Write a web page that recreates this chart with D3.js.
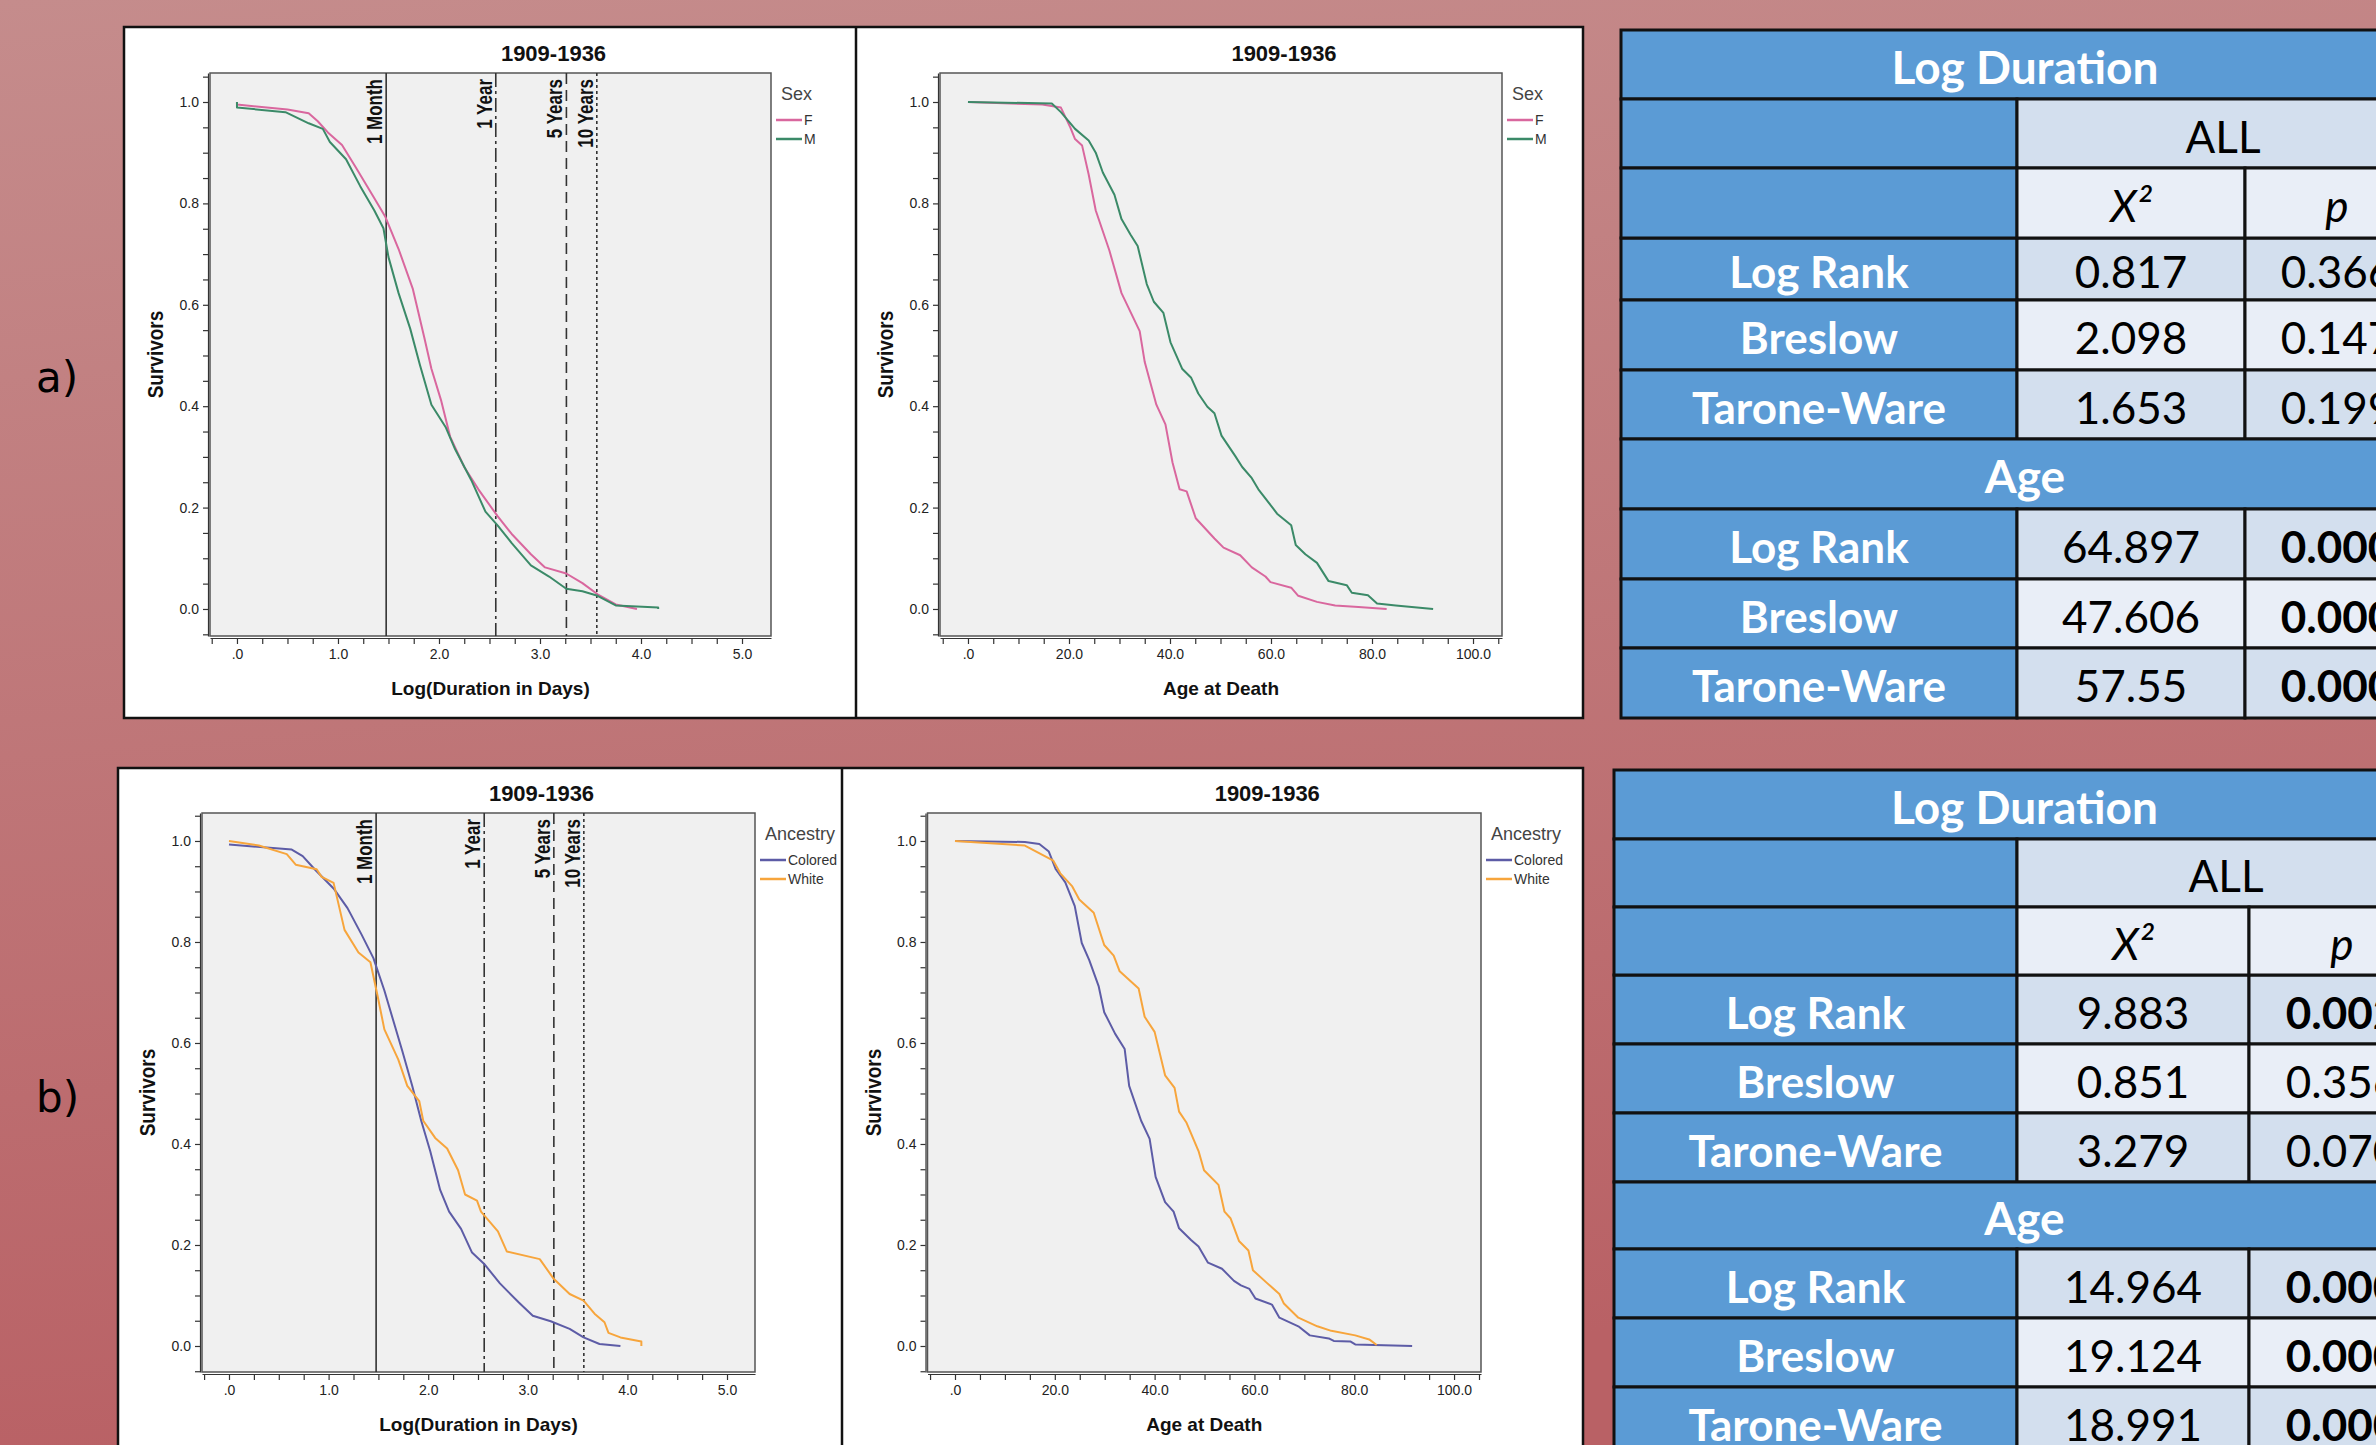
<!DOCTYPE html>
<html>
<head>
<meta charset="utf-8">
<script src="https://cdn.jsdelivr.net/npm/d3@7"></script>
<style>
  body { margin: 0; overflow: hidden; background: #c07878; }
  svg text { font-family: Arial, "Liberation Sans", sans-serif; }
</style>
</head>
<body>
<svg id="svg_id" width="2376" height="1445"></svg>
<script>

// ---- survival curves: [x, survivors] ----
var durSexF = [[0,1.0],[0,0.995],[0.50,0.985],[0.71,0.978],[0.80,0.962],[0.90,0.94],[1.04,0.915],[1.18,0.87],[1.36,0.81],
  [1.47,0.773],[1.60,0.71],[1.74,0.632],[1.855,0.535],[1.925,0.474],[2.02,0.412],[2.11,0.34],[2.25,0.28],
  [2.39,0.236],[2.58,0.183],[2.72,0.148],[2.91,0.108],[3.05,0.082],[3.26,0.07],[3.42,0.051],[3.57,0.029],
  [3.75,0.009],[3.96,0.0]];
var durSexM = [[0,1.0],[0,0.989],[0.48,0.98],[0.71,0.958],[0.85,0.947],[0.92,0.921],[1.08,0.887],[1.22,0.834],
  [1.36,0.786],[1.45,0.751],[1.50,0.694],[1.60,0.623],[1.715,0.553],[1.81,0.482],[1.925,0.403],[2.065,0.359],
  [2.16,0.315],[2.32,0.254],[2.46,0.192],[2.58,0.165],[2.72,0.13],[2.91,0.086],[3.09,0.064],[3.26,0.04],
  [3.42,0.035],[3.57,0.026],[3.75,0.007],[4.17,0.003],[4.17,0.0]];

var ageSexF = [[0,1.0],[14.7,0.995],[18.4,0.989],[20.3,0.949],[21.2,0.927],[22.6,0.914],[23.9,0.857],[25.3,0.786],
  [28.0,0.707],[30.4,0.623],[34.0,0.548],[35.0,0.487],[37.3,0.403],[39.1,0.364],[40.5,0.289],[41.9,0.236],
  [43.3,0.232],[45.1,0.179],[48.8,0.139],[50.6,0.121],[53.9,0.106],[56.2,0.082],[58.9,0.064],[59.9,0.053],
  [64.0,0.042],[65.4,0.026],[69.1,0.014],[72.7,0.007],[77.3,0.004],[82.9,0.0]];
var ageSexM = [[0,1.0],[16.6,0.997],[18.4,0.98],[21.2,0.947],[23.9,0.924],[25.3,0.9],[26.7,0.861],[29.0,0.817],
  [30.4,0.769],[32.2,0.738],[33.6,0.716],[35.4,0.641],[36.8,0.606],[38.7,0.584],[40.1,0.526],[42.4,0.474],
  [44.2,0.456],[45.6,0.425],[47.4,0.399],[48.8,0.386],[50.2,0.342],[52.9,0.302],[54.3,0.28],[56.2,0.258],
  [57.5,0.236],[60.3,0.2],[61.2,0.188],[64.0,0.165],[64.9,0.126],[66.8,0.108],[69.1,0.091],[71.4,0.055],
  [75.0,0.047],[76.0,0.032],[79.2,0.027],[81.0,0.011],[84.7,0.007],[92.1,0.0]];

var durAncColored = [[0,0.993],[0.63,0.983],[0.74,0.97],[0.86,0.944],[1.05,0.906],[1.19,0.867],[1.33,0.815],
  [1.45,0.768],[1.56,0.704],[1.65,0.644],[1.74,0.584],[1.84,0.515],[1.93,0.446],[2.02,0.386],[2.12,0.309],
  [2.21,0.266],[2.33,0.232],[2.44,0.185],[2.56,0.163],[2.72,0.124],[2.91,0.086],[3.05,0.06],[3.23,0.049],
  [3.42,0.034],[3.56,0.017],[3.72,0.004],[3.93,0.0]];
var durAncWhite = [[0,1.0],[0.30,0.991],[0.58,0.974],[0.67,0.953],[0.88,0.944],[0.93,0.929],[1.05,0.917],
  [1.16,0.824],[1.30,0.779],[1.42,0.76],[1.49,0.695],[1.56,0.627],[1.70,0.567],[1.79,0.515],[1.91,0.485],
  [1.95,0.446],[2.07,0.412],[2.19,0.391],[2.30,0.348],[2.37,0.3],[2.49,0.288],[2.53,0.266],[2.70,0.227],
  [2.79,0.187],[3.12,0.172],[3.26,0.133],[3.42,0.103],[3.56,0.09],[3.67,0.064],[3.77,0.047],[3.81,0.026],
  [3.93,0.017],[4.14,0.009],[4.14,0.0]];

var ageAncColored = [[0,1.0],[14.0,0.998],[16.9,0.994],[18.8,0.979],[20.2,0.944],[22.1,0.918],[24.0,0.871],
  [25.4,0.798],[26.9,0.764],[28.8,0.712],[29.9,0.661],[32.1,0.618],[34.0,0.588],[34.9,0.515],[37.3,0.446],
  [39.0,0.41],[40.2,0.335],[42.1,0.285],[43.8,0.266],[44.9,0.233],[47.3,0.21],[48.8,0.197],[50.7,0.165],
  [53.5,0.153],[55.9,0.129],[57.3,0.12],[59.0,0.113],[60.2,0.094],[63.5,0.082],[65.0,0.056],[68.8,0.039],
  [71.1,0.021],[74.9,0.015],[75.9,0.01],[79.2,0.009],[80.2,0.003],[91.6,0.0]];
var ageAncWhite = [[0,1.0],[14.0,0.991],[19.7,0.961],[21.1,0.936],[23.5,0.91],[24.9,0.884],[27.8,0.858],
  [29.9,0.794],[31.8,0.773],[33.0,0.742],[36.8,0.708],[38.0,0.652],[40.0,0.622],[42.1,0.536],[44.0,0.511],
  [44.9,0.464],[46.4,0.442],[48.8,0.386],[49.9,0.348],[52.8,0.319],[54.0,0.266],[55.2,0.253],[56.9,0.208],
  [58.8,0.189],[59.7,0.15],[62.6,0.124],[65.0,0.103],[65.9,0.084],[68.8,0.056],[72.6,0.039],[75.4,0.03],
  [80.2,0.021],[83.0,0.013],[84.5,0.002]];

// reference durations (days) and their labels
var refDays = [30, 365, 1826, 3652];
var refLabels = ["1 Month", "1 Year", "5 Years", "10 Years"];
var refDashes = [null, "14,4,3,4", "11,6", "3,3"];

var sexNames = ["F", "M"];
var sexColors = ["#d9679e", "#3b8a68"];
var ancNames = ["Colored", "White"];
var ancColors = ["#5d5ca6", "#f7a53c"];

// ---- table values ----
var testNames = ["Log Rank", "Breslow", "Tarone-Ware"];
var aDurChi = ["0.817", "2.098", "1.653"];
var aDurP   = ["0.366", "0.147", "0.199"];
var aAgeChi = ["64.897", "47.606", "57.55"];
var aAgeP   = ["0.000", "0.000", "0.000"];
var bDurChi = ["9.883", "0.851", "3.279"];
var bDurP   = ["0.002", "0.356", "0.070"];
var bAgeChi = ["14.964", "19.124", "18.991"];
var bAgeP   = ["0.000", "0.000", "0.000"];

var svg = d3.select("#svg_id");

// background gradient
var defs = svg.append("defs");
var grad = defs.append("linearGradient").attr("id", "bg").attr("x1", 0).attr("y1", 0).attr("x2", 0.15).attr("y2", 1);
grad.append("stop").attr("offset", "0%").attr("stop-color", "#c58c8c");
grad.append("stop").attr("offset", "100%").attr("stop-color", "#b96165");
svg.append("rect").attr("width", 2376).attr("height", 1445).attr("fill", "url(#bg)");

// panel letters
svg.append("text").attr("x", 36).attr("y", 392).text("a)")
  .style("font-family", "'DejaVu Sans', sans-serif").style("font-size", "42px").attr("fill", "#000");
svg.append("text").attr("x", 36).attr("y", 1112).text("b)")
  .style("font-family", "'DejaVu Sans', sans-serif").style("font-size", "42px").attr("fill", "#000");

// white chart boxes
function whiteBox(x0, x1, x2, y0, y1)
{
  svg.append("rect").attr("x", x0).attr("y", y0).attr("width", x2 - x0).attr("height", y1 - y0)
    .attr("fill", "#fff").attr("stroke", "#111").attr("stroke-width", 2.5);
  svg.append("line").attr("x1", x1).attr("x2", x1).attr("y1", y0).attr("y2", y1)
    .attr("stroke", "#111").attr("stroke-width", 2.5);
}
whiteBox(124, 856, 1583, 27, 718);
whiteBox(118, 842, 1583, 768, 1470);

function fmtTick(d)
{
  return d === 0 ? ".0" : d.toFixed(1);
}

/*
 * draws one SPSS style survival plot
 */
function drawChart(c)
{
  var g = svg.append("g");
  var p = c.plot;

  var x = d3.scaleLinear().domain(c.xDomain).range([p.x0, p.x1]);
  var y = d3.scaleLinear().domain(c.yDomain).range([p.y1, p.y0]);

  g.append("rect").attr("x", p.x0).attr("y", p.y0).attr("width", p.x1 - p.x0).attr("height", p.y1 - p.y0)
    .attr("fill", "#f0f0f0").attr("stroke", "#555").attr("stroke-width", 1.5);

  // x axis
  var xTicks = d3.range(c.xMinorCount).map(function(i) { return +(c.xMinorStart + i * c.xMinorStep).toFixed(3); });
  var xAxis = d3.axisBottom(x).tickValues(xTicks).tickSize(6).tickSizeOuter(0).tickPadding(5)
    .tickFormat(function(d) { return (Math.abs(d / c.xMajorStep - Math.round(d / c.xMajorStep)) < 1e-6 && d >= 0 && d <= c.xMajorMax) ? fmtTick(d) : ""; });
  var gx = g.append("g").attr("transform", "translate(0," + (p.y1 + 2) + ")").call(xAxis);

  // y axis
  var yTicks = d3.range(23).map(function(i) { return +(-0.05 + i * 0.05).toFixed(2); });
  var yAxis = d3.axisLeft(y).tickValues(yTicks).tickSize(5).tickSizeOuter(0).tickPadding(4)
    .tickFormat(function(d) { var k = Math.round(d * 100); return (k % 20 === 0 && k >= 0) ? d.toFixed(1) : ""; });
  var gy = g.append("g").attr("transform", "translate(" + (p.x0 - 2) + ",0)").call(yAxis);

  [gx, gy].forEach(function(a)
  {
    a.select(".domain").attr("stroke", "#333").attr("stroke-width", 1.2);
    a.selectAll(".tick line").attr("stroke", "#333").attr("stroke-width", 1.2);
    a.selectAll(".tick text").style("font-size", "14px").style("font-family", "Arial, 'Liberation Sans', sans-serif").attr("fill", "#222");
  });

  // reference lines for duration plots
  if (c.refLines)
  {
    refDays.forEach(function(days, i)
    {
      var xp = x(Math.log10(days));
      var ln = g.append("line").attr("x1", xp).attr("x2", xp).attr("y1", p.y0).attr("y2", p.y1)
        .attr("stroke", "#333").attr("stroke-width", 1.6);
      if (refDashes[i]) ln.attr("stroke-dasharray", refDashes[i]);
      g.append("text").attr("transform", "translate(" + (xp - 4) + "," + (p.y0 + 6) + ") rotate(-90) scale(1,1.3)")
        .attr("text-anchor", "end").style("font-size", "17px").style("font-weight", "bold")
        .attr("fill", "#111").text(refLabels[i]);
    });
  }

  // curves
  var line = d3.line().x(function(d) { return x(d[0]); }).y(function(d) { return y(d[1]); });
  c.series.forEach(function(s, i)
  {
    g.append("path").datum(s).attr("d", line).attr("fill", "none")
      .attr("stroke", c.colors[i]).attr("stroke-width", 2).attr("stroke-linejoin", "round");
  });

  // titles
  g.append("text").attr("x", (p.x0 + p.x1) / 2 + 63).attr("y", p.y0 - 12).attr("text-anchor", "middle")
    .style("font-size", "22px").style("font-weight", "bold").attr("fill", "#111").text("1909-1936");
  g.append("text").attr("x", (p.x0 + p.x1) / 2).attr("y", p.y1 + 59).attr("text-anchor", "middle")
    .style("font-size", "19px").style("font-weight", "bold").attr("fill", "#111").text(c.xTitle);
  g.append("text").attr("transform", "translate(" + (p.x0 - 47) + "," + ((p.y0 + p.y1) / 2) + ") rotate(-90) scale(1,1.15)")
    .attr("text-anchor", "middle").style("font-size", "19px").style("font-weight", "bold")
    .attr("fill", "#111").text("Survivors");

  // legend
  g.append("text").attr("x", p.x1 + 10).attr("y", p.y0 + 27).style("font-size", "18px")
    .attr("fill", "#444").text(c.legendTitle);
  c.names.forEach(function(n, i)
  {
    var ly = p.y0 + 47 + i * 19;
    g.append("line").attr("x1", p.x1 + 5).attr("x2", p.x1 + 31).attr("y1", ly).attr("y2", ly)
      .attr("stroke", c.colors[i]).attr("stroke-width", 2.5);
    g.append("text").attr("x", p.x1 + 33).attr("y", ly + 5).style("font-size", "14px")
      .attr("fill", "#333").text(n);
  });
}

var logDur = { xMinorStart: -0.25, xMinorStep: 0.25, xMinorCount: 22, xMajorStep: 1, xMajorMax: 5,
  xTitle: "Log(Duration in Days)", refLines: true };
var ageAx = { xMinorStart: -5, xMinorStep: 5, xMinorCount: 23, xMajorStep: 20, xMajorMax: 100,
  xTitle: "Age at Death", refLines: false };

drawChart(Object.assign({}, logDur, { plot: { x0: 210, x1: 771, y0: 73, y1: 636 },
  xDomain: [-0.267, 5.287], yDomain: [-0.0533, 1.0572],
  series: [durSexF, durSexM], colors: sexColors, names: sexNames, legendTitle: "Sex" }));
drawChart(Object.assign({}, ageAx, { plot: { x0: 940, x1: 1502, y0: 73, y1: 636 },
  xDomain: [-5.54, 105.74], yDomain: [-0.0533, 1.0572],
  series: [ageSexF, ageSexM], colors: sexColors, names: sexNames, legendTitle: "Sex" }));
drawChart(Object.assign({}, logDur, { plot: { x0: 202, x1: 755, y0: 813, y1: 1372 },
  xDomain: [-0.271, 5.281], yDomain: [-0.0515, 1.0554],
  series: [durAncColored, durAncWhite], colors: ancColors, names: ancNames, legendTitle: "Ancestry" }));
drawChart(Object.assign({}, ageAx, { plot: { x0: 927.5, x1: 1481, y0: 813, y1: 1372 },
  xDomain: [-5.51, 105.4], yDomain: [-0.0515, 1.0554],
  series: [ageAncColored, ageAncWhite], colors: ancColors, names: ancNames, legendTitle: "Ancestry" }));

/*
 * draws one test table
 */
function drawTable(t)
{
  var blue = "#5b9bd5", light1 = "#d3dfee", light2 = "#e9eef7";
  var g = svg.append("g").style("font-family", "Lato, 'Open Sans', sans-serif");
  var cx = t.cols, ry = t.rows;

  function cell(c0, c1, r, fill, txt, style)
  {
    g.append("rect").attr("x", cx[c0]).attr("y", ry[r]).attr("width", cx[c1] - cx[c0]).attr("height", ry[r + 1] - ry[r])
      .attr("fill", fill).attr("stroke", "#111").attr("stroke-width", 3);
    if (!txt) return;
    var tx = g.append("text").attr("x", (cx[c0] + cx[c1]) / 2).attr("y", (ry[r] + ry[r + 1]) / 2 + 19)
      .attr("text-anchor", "middle").style("font-family", "Lato, 'Open Sans', sans-serif").style("font-size", "44px")
      .text(txt);
    if (style === "white" || style === "head") tx.attr("fill", "#fff").style("font-weight", "bold");
    else tx.attr("fill", "#000");
    if (style === "head") tx.style("font-size", "46px");
    if (style === "italic") tx.style("font-style", "italic");
    if (style === "bold") tx.style("font-weight", "bold");
  }

  function block(r, title, chi, pv)
  {
    cell(0, 3, r, blue, title, "head");
    testNames.forEach(function(n, i)
    {
      var rr = r + (title === "Age" ? 1 : 3) + i;
      var fill = i % 2 ? light2 : light1;
      cell(0, 1, rr, blue, n, "white");
      cell(1, 2, rr, fill, chi[i], "normal");
      cell(2, 3, rr, fill, pv[i], (+pv[i] < 0.05) ? "bold" : "normal");
    });
  }

  block(0, "Log Duration", t.durChi, t.durP);
  cell(0, 1, 1, blue, "", "white");
  cell(1, 3, 1, light1, "ALL", "normal");
  cell(0, 1, 2, blue, "", "white");
  cell(1, 2, 2, light2, "X\u00b2", "italic");
  cell(2, 3, 2, light2, "p", "italic");
  block(6, "Age", t.ageChi, t.ageP);
}

drawTable({ cols: [1621, 2017, 2245, 2429], rows: [30, 99, 168, 238, 300, 370, 439, 509, 579, 648, 718],
  durChi: aDurChi, durP: aDurP, ageChi: aAgeChi, ageP: aAgeP });
drawTable({ cols: [1614, 2017, 2249, 2435], rows: [770, 839, 907, 975, 1044, 1113, 1182, 1249, 1318, 1387, 1456],
  durChi: bDurChi, durP: bDurP, ageChi: bAgeChi, ageP: bAgeP });

</script>
</body>
</html>
